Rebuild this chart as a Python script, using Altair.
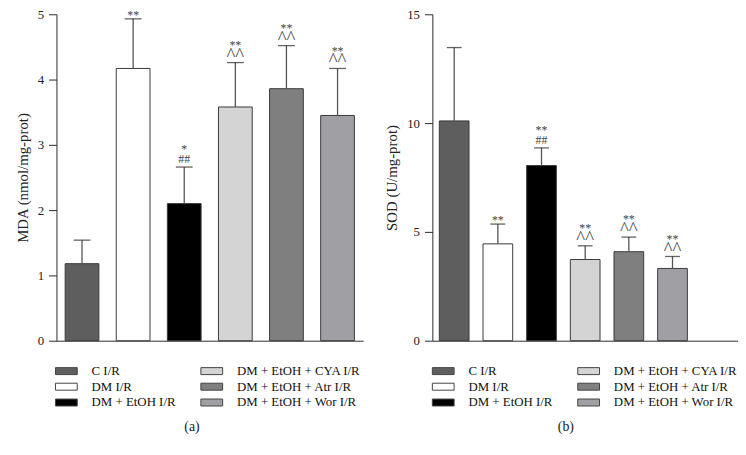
import altair as alt
import pandas as pd

groups = ["C I/R", "DM I/R", "DM + EtOH I/R", "DM + EtOH + CYA I/R",
          "DM + EtOH + Atr I/R", "DM + EtOH + Wor I/R"]
colors = ["#5e5e5e", "#ffffff", "#000000", "#d4d4d4", "#7f7f7f", "#a0a0a4"]

mda_mean = [1.18, 4.17, 2.10, 3.58, 3.86, 3.45]
mda_err = [0.36, 0.76, 0.56, 0.68, 0.66, 0.72]
mda_top = ["", "", "*", "**", "**", "**"]
mda_low = ["", "**", "##", "^^", "^^", "^^"]

sod_mean = [10.1, 4.45, 8.05, 3.73, 4.09, 3.32]
sod_err = [3.37, 0.91, 0.81, 0.63, 0.67, 0.55]
sod_top = ["", "", "**", "**", "**", "**"]
sod_low = ["", "**", "##", "^^", "^^", "^^"]

SERIF = "Liberation Serif"


def panel(mean, err, top, low, ytitle, ymax, yticks, xdomain, width, pin, cap_w,
          tag, tagx, legx):
    df = pd.DataFrame({
        "group": groups,
        "mean": mean,
        "upper": [m + e for m, e in zip(mean, err)],
        "top": top,
        "low": low,
    })
    xscale = alt.Scale(domain=xdomain, paddingInner=pin, paddingOuter=pin / 2)
    x = alt.X("group:N", scale=xscale,
              axis=alt.Axis(title=None, labels=False, ticks=False,
                            domainColor="#2a2a2a", domainWidth=1))
    yscale = alt.Scale(domain=[0, ymax], nice=False, zero=True)
    yaxis = alt.Axis(title=ytitle, values=yticks, grid=False, tickSize=8,
                     tickColor="#2a2a2a", domainColor="#2a2a2a", labelPadding=5,
                     labelFont=SERIF, labelFontSize=13, labelColor="#222",
                     titleFont=SERIF, titleFontSize=15, titleFontWeight="normal",
                     titleColor="#222", titlePadding=7)
    yu = alt.Y("upper:Q", scale=yscale, axis=yaxis)
    base = alt.Chart(df)
    bars = base.mark_bar(stroke="#3a3a3a", strokeWidth=1).encode(
        x=x,
        y=alt.Y("mean:Q", scale=yscale, axis=yaxis),
        color=alt.Color("group:N",
                        scale=alt.Scale(domain=groups, range=colors),
                        legend=alt.Legend(
                            title=None, orient="none", legendX=legx, legendY=354,
                            columns=2, columnPadding=23, rowPadding=2,
                            symbolType="M-2,-0.64H2V0.64H-2Z", symbolSize=121,
                            symbolStrokeColor="#444", symbolStrokeWidth=1,
                            labelFont=SERIF, labelFontSize=13, labelColor="#111",
                            labelOffset=19, padding=0)),
    )
    rule = base.mark_rule(color="#555555", strokeWidth=1.3).encode(
        x=x, y=alt.Y("mean:Q", scale=yscale, axis=yaxis), y2="upper:Q")
    cap = base.mark_tick(orient="horizontal", size=cap_w, thickness=1.3,
                         color="#222222").encode(x=x, y=yu)
    t_single = base.transform_filter("datum.low == '**'").mark_text(
        font=SERIF, color="#444", baseline="alphabetic", dy=0, fontSize=12
    ).encode(x=x, y=yu, text="low:N")
    t_hash = base.transform_filter("datum.low == '##'").mark_text(
        font=SERIF, color="#444", baseline="alphabetic", dy=-4, fontSize=12
    ).encode(x=x, y=yu, text="low:N")
    t_caret = base.transform_filter("datum.low == '^^'").mark_text(
        font=SERIF, color="#444", baseline="alphabetic", dy=-2, fontSize=19
    ).encode(x=x, y=yu, text="low:N")
    t_top = base.transform_filter("datum.top != ''").mark_text(
        font=SERIF, color="#444", baseline="alphabetic", dy=-14, fontSize=12
    ).encode(x=x, y=yu, text="top:N")
    tag_df = pd.DataFrame({"tag": [tag]})
    t_tag = alt.Chart(tag_df).mark_text(font=SERIF, fontSize=14, color="#222",
                                        baseline="middle").encode(
        x=alt.value(tagx), y=alt.value(417), text="tag:N")
    return alt.layer(bars, rule, cap, t_single, t_hash, t_caret, t_top,
                     t_tag).properties(width=width, height=330)


pa = panel(mda_mean, mda_err, mda_top, mda_low, "MDA (nmol/mg-prot)", 5,
           [0, 1, 2, 3, 4, 5], groups, 310, 0.34, 17, "(a)", 137, 3.5)
pb = panel(sod_mean, sod_err, sod_top, sod_low, "SOD (U/mg-prot)", 15,
           [0, 5, 10, 15], groups + ["_"], 309, 0.32, 15, "(b)", 135, 4.5)

chart = alt.hconcat(pa, pb, spacing=22).properties(
    padding={"left": 7, "top": -2, "right": 0, "bottom": 0}
).configure_view(stroke=None).resolve_scale(color="independent")

chart.save("out.html", embed_options={"renderer": "svg", "actions": False})
